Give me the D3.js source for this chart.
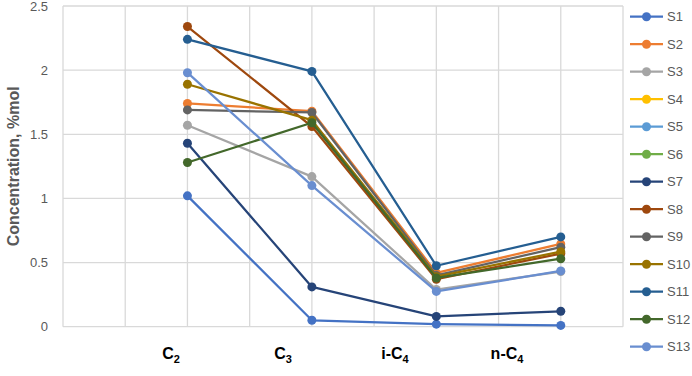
<!DOCTYPE html>
<html>
<head>
<meta charset="utf-8">
<script src="https://cdn.jsdelivr.net/npm/d3@7"></script>
<style>
  html, body { margin: 0; padding: 0; background: #fff; }
  svg { display: block; font-family: "Liberation Sans", Arial, sans-serif; }
</style>
</head>
<body>
<svg id="chart" width="692" height="376"></svg>
<script>
// ---- data ----
const categories = ["C2", "C3", "i-C4", "n-C4"];
const categoryBase = ["C", "C", "i-C", "n-C"];
const categorySub = ["2", "3", "4", "4"];
const seriesNames = ["S1","S2","S3","S4","S5","S6","S7","S8","S9","S10","S11","S12","S13"];
const S1  = [1.02, 0.05, 0.02, 0.01];
const S2  = [1.74, 1.68, 0.42, 0.645];
const S3  = [1.57, 1.17, 0.29, 0.43];
const S4  = [null, null, null, null];
const S5  = [null, null, null, null];
const S6  = [null, null, null, null];
const S7  = [1.43, 0.31, 0.08, 0.12];
const S8  = [2.34, 1.56, 0.37, 0.57];
const S9  = [1.69, 1.67, 0.40, 0.62];
const S10 = [1.89, 1.61, 0.39, 0.585];
const S11 = [2.24, 1.99, 0.475, 0.70];
const S12 = [1.28, 1.59, 0.38, 0.53];
const S13 = [1.98, 1.10, 0.275, 0.435];
const yTicks = [0, 0.5, 1, 1.5, 2, 2.5];
const yTickLabels = ["0", "0.5", "1", "1.5", "2", "2.5"];
const colors = ["#4472C4","#ED7D31","#A5A5A5","#FFC000","#5B9BD5","#70AD47",
                "#264478","#9E480E","#636363","#997300","#255E91","#43682B","#698ED0"];

const seriesValues = [S1,S2,S3,S4,S5,S6,S7,S8,S9,S10,S11,S12,S13];
const series = seriesNames.map((n, i) => ({ name: n, values: seriesValues[i], color: colors[i] }));

// ---- layout ----
const svg = d3.select("#chart");
const pLeft = 63, pRight = 623, pTop = 6, pBottom = 326.7;

const y = d3.scaleLinear().domain([0, 2.5]).range([pBottom, pTop]);
const x = d3.scalePoint().domain(categories).range([pLeft, pRight + (pRight - pLeft) / 9]).padding(1);
const grid = d3.scaleLinear().domain([0, 9]).range([pLeft, pRight]);
const labelX = d3.scalePoint().domain(categories).range([171, 507]);

// gridlines
const g = svg.append("g");
g.selectAll(".hg").data(yTicks).enter().append("line")
  .attr("x1", pLeft).attr("x2", pRight)
  .attr("y1", d => y(d)).attr("y2", d => y(d))
  .attr("stroke", "#d9d9d9").attr("stroke-width", 1.3);
g.selectAll(".vg").data(d3.range(0, 10)).enter().append("line")
  .attr("x1", d => grid(d)).attr("x2", d => grid(d))
  .attr("y1", pTop).attr("y2", pBottom)
  .attr("stroke", "#d9d9d9").attr("stroke-width", 1.3);

// y axis tick labels
const yAxis = d3.axisLeft(y).tickValues(yTicks).tickFormat((d, i) => yTickLabels[i]).tickSize(0).tickPadding(15);
const ya = svg.append("g").attr("transform", `translate(${pLeft},0)`).call(yAxis);
ya.select(".domain").remove();
ya.selectAll("text").attr("fill", "#595959").style("font-size", "13px")
  .style("font-family", "'Liberation Sans', Arial, sans-serif");

// y axis title
svg.append("text")
  .attr("transform", `translate(19,${(pTop + pBottom) / 2}) rotate(-90)`)
  .attr("text-anchor", "middle")
  .attr("fill", "#595959")
  .style("font-size", "16px").style("font-weight", "bold")
  .text("Concentration, %mol");

// category labels
const cl = svg.selectAll(".cat").data(categories).enter().append("text")
  .attr("x", d => labelX(d)).attr("y", 359)
  .attr("text-anchor", "middle")
  .attr("fill", "#000").style("font-size", "16px").style("font-weight", "bold");
cl.append("tspan").text((d, i) => categoryBase[i]);
cl.append("tspan").attr("dy", 4).style("font-size", "11px").text((d, i) => categorySub[i]);

// lines
const line = d3.line()
  .defined(d => d.v !== null)
  .x(d => x(d.c)).y(d => y(d.v));
const sg = svg.selectAll(".series").data(series).enter().append("g");
sg.append("path")
  .attr("d", s => line(s.values.map((v, i) => ({ c: categories[i], v }))))
  .attr("fill", "none").attr("stroke", s => s.color)
  .attr("stroke-width", 2.25).attr("stroke-linejoin", "round");
sg.selectAll("circle")
  .data(s => s.values.map((v, i) => ({ c: categories[i], v, color: s.color })).filter(d => d.v !== null))
  .enter().append("circle")
  .attr("cx", d => x(d.c)).attr("cy", d => y(d.v)).attr("r", 4.5)
  .attr("fill", d => d.color);

// legend
const lg = svg.append("g");
const li = lg.selectAll(".li").data(series).enter().append("g")
  .attr("transform", (d, i) => `translate(0,${16.7 + i * 27.5})`);
li.append("line").attr("x1", 630).attr("x2", 663).attr("y1", 0).attr("y2", 0)
  .attr("stroke", d => d.color).attr("stroke-width", 2.25);
li.append("circle").attr("cx", 646.5).attr("cy", 0).attr("r", 4.5).attr("fill", d => d.color);
li.append("text").attr("x", 667).attr("y", 0).attr("dy", "0.35em")
  .attr("fill", "#595959").style("font-size", "13px").text(d => d.name);
</script>
</body>
</html>
